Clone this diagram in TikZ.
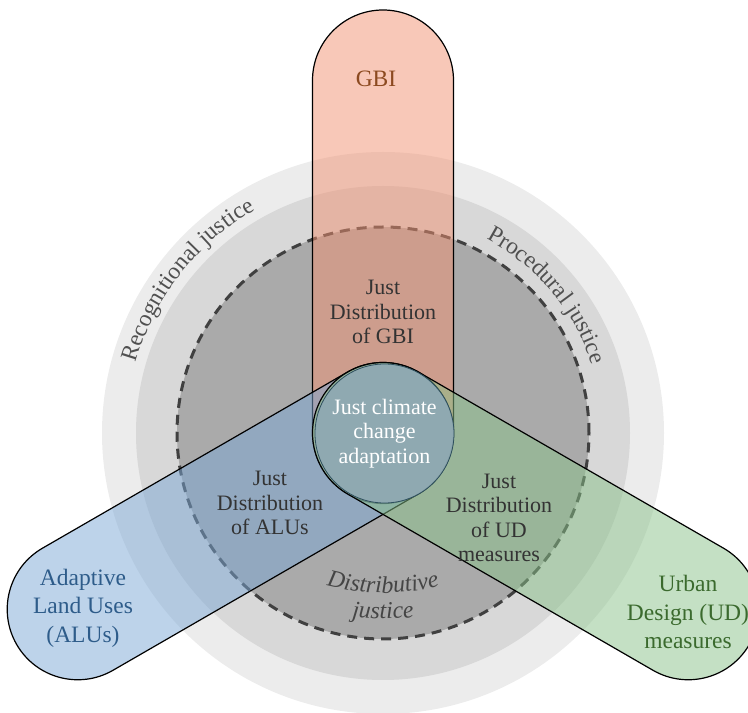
\documentclass[tikz,border=0pt]{standalone}
\usepackage{fontspec}
\setmainfont{Liberation Serif}
\usetikzlibrary{decorations.text}

\definecolor{ringouter}{HTML}{ECECEC}
\definecolor{ringmid}{HTML}{D8D8D8}
\definecolor{ringinner}{HTML}{AAAAAA}
\definecolor{ringdash}{HTML}{404040}
\definecolor{gbifill}{RGB}{241,145,113}
\definecolor{alufill}{RGB}{123,167,213}
\definecolor{udfill}{RGB}{137,193,137}
\definecolor{corefill}{HTML}{8FA9B4}
\definecolor{coreline}{HTML}{2E4F5E}
\definecolor{gbitext}{HTML}{8C4A20}
\definecolor{alutext}{HTML}{2E5C8A}
\definecolor{udtext}{HTML}{3B6A2E}
\definecolor{inktext}{HTML}{333333}
\definecolor{ringtext}{HTML}{505050}
\definecolor{disttext}{HTML}{454545}

\begin{document}
\begin{tikzpicture}[x=1pt,y=1pt,
  pill/.style={draw=black, line width=1.2pt, fill opacity=0.5},
  inlabel/.style={align=center, inner sep=0pt, text=inktext, font=\fontsize{22}{24.5}\selectfont},
  outlabel/.style={align=center, inner sep=0pt, font=\fontsize{23.5}{28.5}\selectfont},
  ringlabel/.style={decorate, decoration={text along path, text align=center, text={#1}}},
]
\useasboundingbox (0,0) rectangle (748,713);
\coordinate (c) at (383,280);

% concentric justice rings
\fill[ringouter] (c) circle[radius=281];
\fill[ringmid] (c) circle[radius=247];
\filldraw[fill=ringinner, draw=ringdash, line width=3pt, dash pattern=on 10pt off 7pt] (c) circle[radius=206];

% the three measure pills, all rounded at the common centre
\foreach \ang/\col in {90/gbifill, 210/alufill, 330/udfill}{
  \begin{scope}[shift={(c)}, rotate=\ang]
    \draw[pill, fill=\col] (0,-70.5) -- (352.5,-70.5)
      arc[start angle=-90, end angle=90, radius=70.5] -- (0,70.5)
      arc[start angle=90, end angle=270, radius=70.5] -- cycle;
  \end{scope}
}

% core
\node[circle, minimum size=139pt, inner sep=0pt, fill=corefill, fill opacity=0.9,
      draw=coreline, line width=0.8pt, text opacity=1, text=white, align=center,
      font=\fontsize{22}{24.5}\selectfont] (core) at (384.5,279.5)
      {Just climate\\change\\adaptation};

% labels
\node[outlabel, text=gbitext] (gbi) at (376,634) {GBI};
\node[inlabel] (jgbi) at (383,401) {Just\\Distribution\\of GBI};
\node[inlabel] (jalu) at (270,210) {Just\\Distribution\\of ALUs};
\node[inlabel] (jud) at (499,195) {Just\\Distribution\\of UD\\measures};
\node[outlabel, text=alutext] (alu) at (83,105) {Adaptive\\Land Uses\\(ALUs)};
\node[outlabel, text=udtext] (ud) at (688,101) {Urban\\Design (UD)\\measures};

% curved ring captions
\path[ringlabel={|\fontsize{23.5}{24}\selectfont\color{ringtext}|Recognitional justice}]
  (c) ++(177:257) arc[start angle=177, end angle=107, radius=257];
\path[ringlabel={|\fontsize{23.5}{24}\selectfont\color{ringtext}|Procedural justice}]
  (c) ++(76:220) arc[start angle=76, end angle=4, radius=220];
\coordinate (dc) at (383,341);
\path[ringlabel={|\itshape\fontsize{24}{24}\selectfont\color{disttext}|Distributive}]
  (dc) ++(240:221) arc[start angle=240, end angle=300, radius=221];
\path[ringlabel={|\itshape\fontsize{24}{24}\selectfont\color{disttext}|justice}]
  (dc) ++(252:247) arc[start angle=252, end angle=288, radius=247];
\end{tikzpicture}
\end{document}
